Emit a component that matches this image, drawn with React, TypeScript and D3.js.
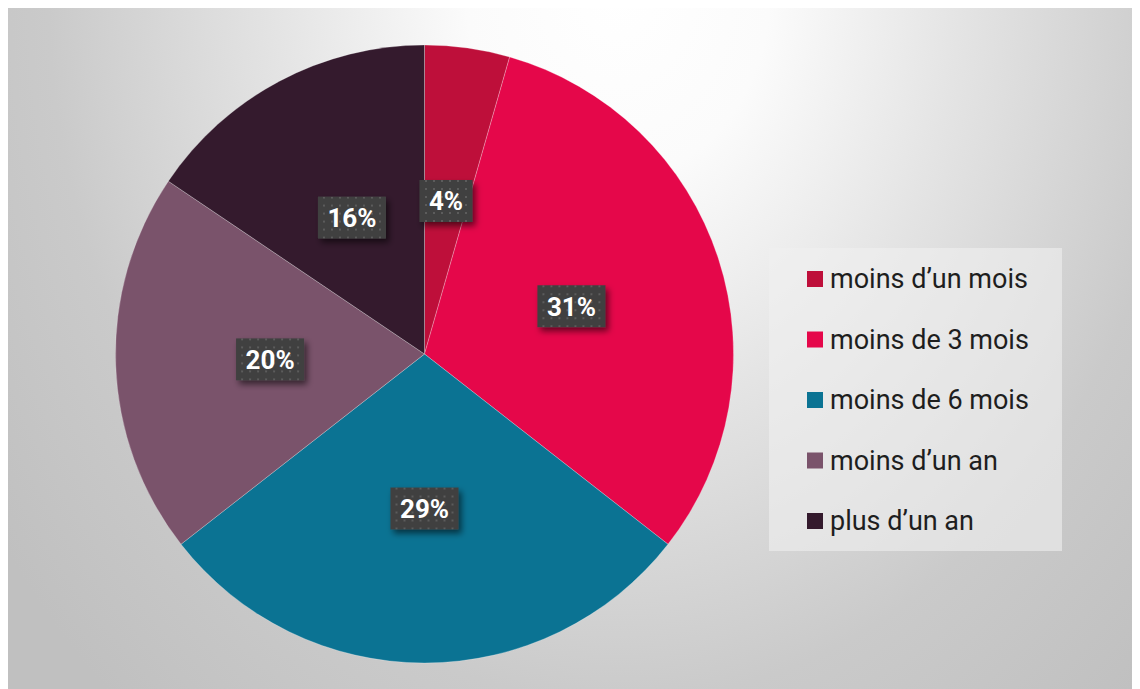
import React, { useEffect, useRef } from "react";
import * as d3 from "d3";

const categories = ["moins d’un mois", "moins de 3 mois", "moins de 6 mois", "moins d’un an", "plus d’un an"];
const counts = [2, 14, 13, 9, 7];
const colors = ["#BE0F3A", "#E5074A", "#0B7393", "#7A536B", "#341A2D"];

const W = 1132;
const H = 681;

export default function App() {
  const ref = useRef<SVGSVGElement | null>(null);

  useEffect(() => {
    const svg = d3.select(ref.current);
    svg.selectAll("*").remove();

    const defs = svg.append("defs");
    const grad = defs
      .append("radialGradient")
      .attr("id", "bg")
      .attr("gradientUnits", "userSpaceOnUse")
      .attr("cx", 610)
      .attr("cy", -20)
      .attr("r", 760)
      .attr("gradientTransform", "translate(610,-20) scale(1,1.25) translate(-610,20)");
    [
      [0, "#ffffff"],
      [0.2, "#fbfbfb"],
      [0.45, "#e4e4e4"],
      [0.75, "#cacaca"],
      [1, "#c0c0c0"],
    ].forEach(([o, c]) => grad.append("stop").attr("offset", o as number).attr("stop-color", c as string));

    const pat = defs
      .append("pattern")
      .attr("id", "dots")
      .attr("patternUnits", "userSpaceOnUse")
      .attr("width", 8)
      .attr("height", 8);
    pat.append("rect").attr("width", 8).attr("height", 8).attr("fill", "#404040");
    pat.append("rect").attr("x", 3).attr("y", 3).attr("width", 2).attr("height", 2).attr("fill", "#5b5b5b");

    const filt = defs
      .append("filter")
      .attr("id", "shadow")
      .attr("x", "-30%")
      .attr("y", "-30%")
      .attr("width", "160%")
      .attr("height", "180%");
    filt
      .append("feDropShadow")
      .attr("dx", 3)
      .attr("dy", 4)
      .attr("stdDeviation", 3)
      .attr("flood-color", "#000")
      .attr("flood-opacity", 0.55);

    svg.append("rect").attr("width", W).attr("height", H).attr("fill", "url(#bg)");

    const cx = 416.5;
    const cy = 346;
    const r = 309;

    const pie = d3.pie<number>().sort(null).value((d) => d);
    const arcs = pie(counts);
    const arc = d3.arc<d3.PieArcDatum<number>>().innerRadius(0).outerRadius(r);

    const g = svg.append("g").attr("transform", `translate(${cx},${cy})`);
    g.selectAll("path.slice")
      .data(arcs)
      .enter()
      .append("path")
      .attr("class", "slice")
      .attr("d", arc)
      .attr("fill", (_, i) => colors[i])
      .attr("stroke", "rgba(255,255,255,0.25)")
      .attr("stroke-width", 1);

    const total = d3.sum(counts);
    const lg = g.append("g");
    arcs.forEach((a, i) => {
      const [x, y] = arc.centroid(a);
      const txt = `${Math.round((counts[i] / total) * 100)}%`;
      const grp = lg.append("g").attr("transform", `translate(${x},${y})`);
      const rect = grp.append("rect").attr("fill", "url(#dots)").attr("filter", "url(#shadow)");
      const t = grp
        .append("text")
        .attr("text-anchor", "middle")
        .attr("dy", "0.36em")
        .attr("fill", "#ffffff")
        .attr("font-family", "Roboto, sans-serif")
        .attr("font-weight", 700)
        .attr("font-size", 26)
        .text(txt);
      const tw = (t.node() as SVGTextElement).getComputedTextLength();
      const bw = tw + 19;
      const bh = 42;
      rect.attr("x", -bw / 2).attr("y", -bh / 2).attr("width", bw).attr("height", bh);
    });

    // legend
    const leg = svg.append("g");
    leg
      .append("rect")
      .attr("x", 761)
      .attr("y", 240)
      .attr("width", 293)
      .attr("height", 303)
      .attr("fill", "rgba(240,240,240,0.6)");
    const rowY = d3.scalePoint<string>().domain(categories).range([271, 513]);
    categories.forEach((c, i) => {
      const y = rowY(c) as number;
      leg.append("rect").attr("x", 799).attr("y", y - 8).attr("width", 16).attr("height", 16).attr("fill", colors[i]);
      leg
        .append("text")
        .attr("x", 822)
        .attr("y", y)
        .attr("dy", "0.35em")
        .attr("fill", "#1e1e1e")
        .attr("font-family", "Roboto, sans-serif")
        .attr("font-size", 27)
        .text(c);
    });
  }, []);

  return <svg ref={ref} width={W} height={H} style={{ display: "block" }} />;
}
